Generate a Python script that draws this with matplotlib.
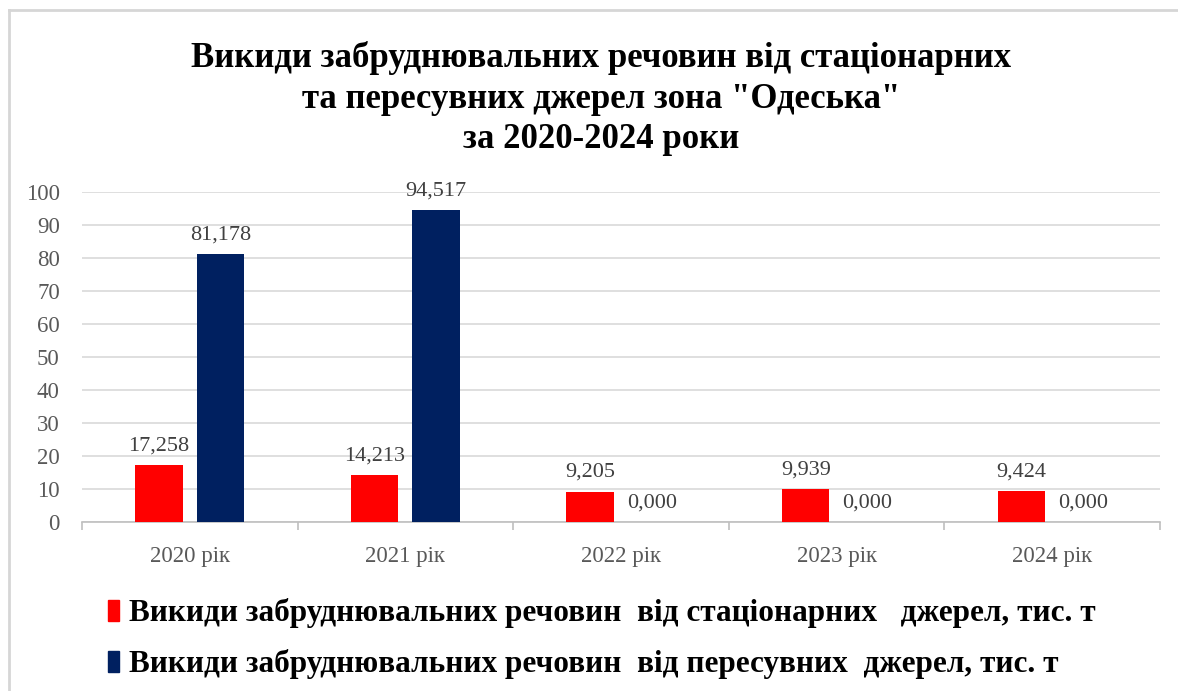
import numpy as np
import matplotlib.pyplot as plt
from matplotlib.patches import Patch
from matplotlib.lines import Line2D

plt.rcParams['font.family'] = ['Liberation Serif', 'DejaVu Serif']

years = ['2020 рік', '2021 рік', '2022 рік', '2023 рік', '2024 рік']
stationary = [17.258, 14.213, 9.205, 9.939, 9.424]
mobile = [81.178, 94.517, 0.0, 0.0, 0.0]
label_st = 'Викиди забруднювальних речовин  від стаціонарних   джерел, тис. т'
label_mob = 'Викиди забруднювальних речовин  від пересувних  джерел, тис. т'
title = 'Викиди забруднювальних речовин від стаціонарних\nта пересувних джерел зона "Одеська"\nза 2020-2024 роки'

red = '#ff0000'
navy = '#002060'
grey = '#595959'

fig = plt.figure(figsize=(11.78, 6.91), dpi=100)
ax = fig.add_axes([0.0696, 0.2446, 0.9151, 0.4775])

x = np.arange(len(years))
w = 0.22
b1 = ax.bar(x - 0.143, stationary, w, color=red, zorder=3)
b2 = ax.bar(x + 0.143, mobile, w, color=navy, zorder=3)

def fmt(v):
    return f'{v:.3f}'.replace('.', ',')

for bars, vals in ((b1, stationary), (b2, mobile)):
    for r, v in zip(bars, vals):
        ax.annotate(fmt(v), (r.get_x() + r.get_width() / 2, v),
                    xytext=(0, 7), textcoords='offset points',
                    ha='center', va='bottom', fontsize=16, color='#404040')

ax.set_xlim(-0.5, len(years) - 0.5)
ax.set_ylim(0, 100)
ax.set_yticks(range(0, 101, 10))
ax.yaxis.grid(True, color='#d9d9d9', linewidth=1.2, zorder=0)
ax.set_axisbelow(True)
for s in ('left', 'right', 'top'):
    ax.spines[s].set_visible(False)
ax.spines['bottom'].set_color('#bfbfbf')
ax.spines['bottom'].set_linewidth(1.2)

ax.set_xticks(x)
ax.set_xticklabels(years)
ax.set_xticks(np.arange(-0.5, len(years)), minor=True)
ax.tick_params(axis='x', which='major', length=0, pad=17, labelsize=16.5, labelcolor=grey)
ax.tick_params(axis='x', which='minor', length=6, color='#bfbfbf', width=1.2)
ax.tick_params(axis='y', length=0, pad=16, labelsize=16.5, labelcolor=grey)

fig.text(0.51, 0.94, title, ha='center', va='top', fontsize=25,
         fontweight='bold', linespacing=1.3)

fig.legend(handles=[Patch(color=red, label=label_st), Patch(color=navy, label=label_mob)],
           loc='upper left', bbox_to_anchor=(0.068, 0.175), frameon=False,
           handlelength=0.35, handleheight=0.65, handletextpad=0.3,
           labelspacing=0.68, prop={'weight': 'bold', 'size': 22.5})

# outer frame lines
fig.add_artist(Line2D([0.008, 0.008], [0, 0.985], color='#d6d6d6', lw=2, transform=fig.transFigure))
fig.add_artist(Line2D([0.008, 1], [0.985, 0.985], color='#d6d6d6', lw=2, transform=fig.transFigure))

fig.savefig('out.png', dpi=100)
